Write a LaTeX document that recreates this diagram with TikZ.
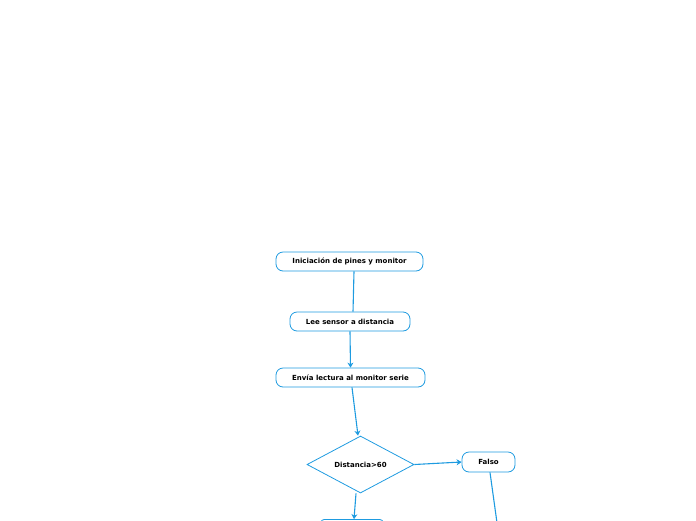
\documentclass[tikz,border=0pt]{standalone}
\usepackage{fontspec}
\setmainfont{DejaVu Sans}
\usetikzlibrary{shapes.geometric,arrows.meta}
\definecolor{lineblue}{HTML}{1E9BE0}
\tikzset{
  stepbox/.style={draw=lineblue, line width=0.8pt, rounded corners=7pt, fill=white,
    minimum height=19pt, inner sep=0pt, font=\fontsize{7}{8}\selectfont\bfseries, text=black},
  decision/.style={draw=lineblue, line width=0.8pt, diamond, aspect=1.88, inner sep=0pt,
    minimum width=107pt, minimum height=57pt, font=\fontsize{7}{8}\selectfont\bfseries},
  conn/.style={draw=lineblue, line width=1.1pt},
  arr/.style={conn, -{Stealth[length=5pt,width=6pt]}}
}
\begin{document}
\begin{tikzpicture}[x=1pt,y=-1pt]
\useasboundingbox (0,0) rectangle (696,520);
\node[stepbox, minimum width=147pt] (n1) at (349.5,261.5) {Iniciación de pines y monitor};
\node[stepbox, minimum width=120pt] (n2) at (350,321.5) {Lee sensor a distancia};
\node[stepbox, minimum width=149pt] (n3) at (350.5,377.5) {Envía lectura al monitor serie};
\node[decision] (d) at (360.5,464.5) {Distancia>60};
\node[stepbox, minimum width=53pt, minimum height=20pt] (f) at (488.5,462) {Falso};
\node[stepbox, minimum width=62pt, rounded corners=3pt] (n5) at (352,529) {};
\coordinate (fend) at (498,530);
\draw[conn] ([xshift=4.5pt]n1.south) -- ([xshift=3pt]n2.north);
\draw[arr] (n2.south) -- (n3.north);
\draw[arr] ([xshift=1.5pt]n3.south) -- ([xshift=-2.5pt]d.north);
\draw[arr] (d.east) -- (f.west);
\draw[arr] ([xshift=-4.5pt]d.south) -- ([xshift=2pt]n5.north);
\draw[conn] ([xshift=1.5pt]f.south) -- (fend);
\end{tikzpicture}
\end{document}
